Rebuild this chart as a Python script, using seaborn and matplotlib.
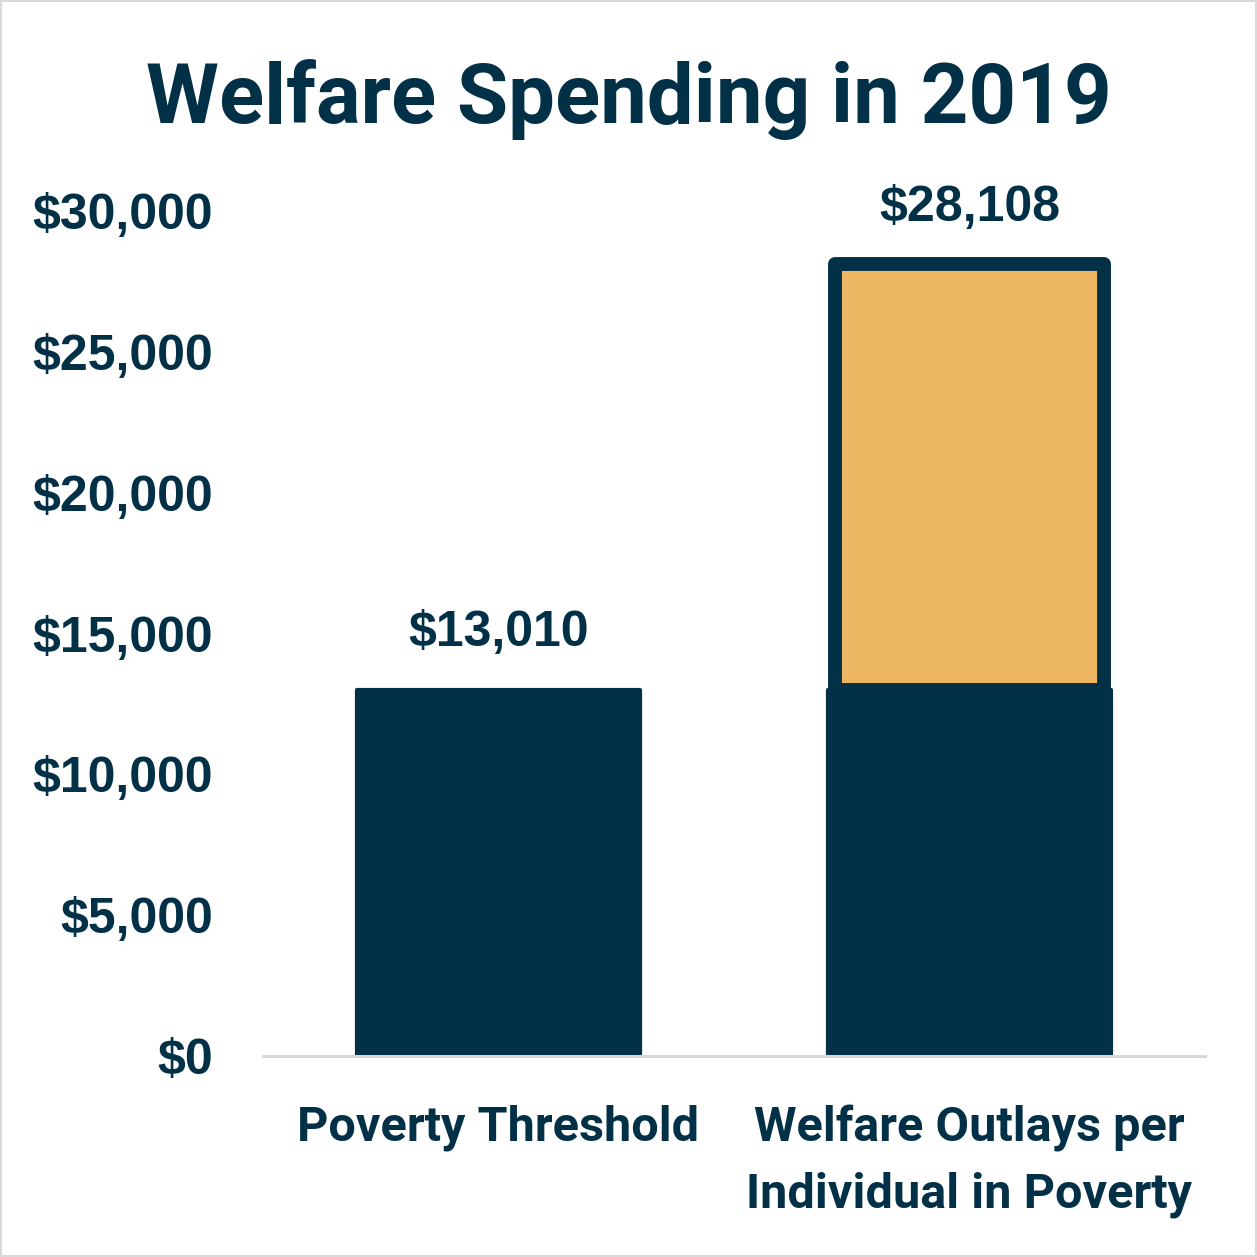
import matplotlib
matplotlib.use("Agg")
import matplotlib.pyplot as plt
import seaborn as sns
import pandas as pd
from matplotlib.patches import Rectangle

categories = ["Poverty Threshold", "Welfare Outlays per\nIndividual in Poverty"]
base_values = [13010, 13010]
extra_values = [0, 15098]
total_values = [13010, 28108]
y_ticks = [0, 5000, 10000, 15000, 20000, 25000, 30000]
y_tick_labels = ["$0", "$5,000", "$10,000", "$15,000", "$20,000", "$25,000", "$30,000"]
value_labels = ["$13,010", "$28,108"]

NAVY = "#023047"
ORANGE = "#EDB662"
NUM_FONT = ["Liberation Sans", "DejaVu Sans"]
TXT_FONT = ["Roboto", "DejaVu Sans"]

sns.set_theme(style="white")
plt.rcParams["font.family"] = TXT_FONT

fig = plt.figure(figsize=(12.57, 12.57), dpi=100)
ax = fig.add_axes([263/1257, 1 - 1056/1257, (1205-263)/1257, (1056-211)/1257])

df = pd.DataFrame({"cat": categories, "base": base_values, "extra": extra_values, "total": total_values})

sns.barplot(data=df, x="cat", y="base", order=categories, color=NAVY, width=0.6, saturation=1,
            edgecolor=NAVY, linewidth=3, ax=ax)
ext = df[df["extra"] > 0]
sns.barplot(data=ext, x="cat", y="extra", order=categories, bottom=ext["base"].values,
            color=ORANGE, width=0.57, saturation=1, edgecolor=NAVY, linewidth=10, ax=ax)
for p in ax.patches:
    p.set_joinstyle("round")

for i, (t, lab) in enumerate(zip(total_values, value_labels)):
    ax.annotate(lab, (i, t), xytext=(0, 24), textcoords="offset points",
                ha="center", va="bottom", fontsize=36, fontweight="bold", color=NAVY,
                family=NUM_FONT, annotation_clip=False)

ax.set_ylim(0, 30000)
ax.set_xlim(-0.5, 1.5)
ax.set_yticks(y_ticks)
ax.set_yticklabels(y_tick_labels, fontsize=36, fontweight="bold", color=NAVY, family=NUM_FONT)
ax.set_xticks(range(len(categories)))
ax.set_xticklabels(categories, fontsize=35, fontweight="bold", color=NAVY, linespacing=1.55)
ax.tick_params(axis="y", length=0, pad=36)
ax.tick_params(axis="x", length=0, pad=35)
ax.set_xlabel("")
ax.set_ylabel("")
for s in ["top", "right", "left"]:
    ax.spines[s].set_visible(False)
ax.spines["bottom"].set_color("#D9D9D9")
ax.spines["bottom"].set_linewidth(2.2)
ax.spines["bottom"].set_zorder(5)

fig.text(0.5, 1 - 99/1257, "Welfare Spending in 2019", ha="center", va="center",
         fontsize=60, fontweight="bold", color=NAVY)

fig.patches.append(Rectangle((0.001, 0.001), 0.998, 0.998, transform=fig.transFigure,
                             fill=False, edgecolor="#D9D9D9", linewidth=1.5))

fig.savefig("out.png", dpi=100, facecolor="white")
